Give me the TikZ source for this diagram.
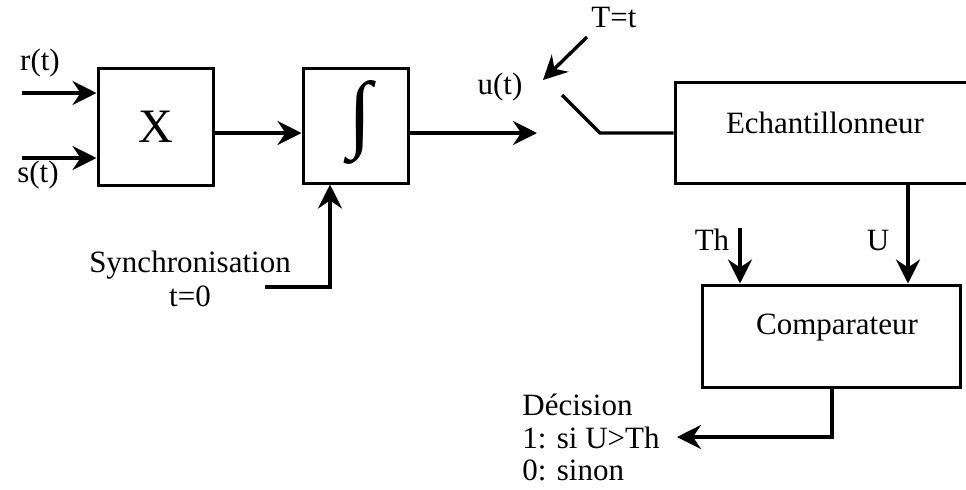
\documentclass[tikz,border=0pt]{standalone}
\usepackage{fontspec}
\setmainfont{Liberation Serif}
\usetikzlibrary{arrows.meta}
\begin{document}
\begin{tikzpicture}[x=0.5pt,y=-0.5pt,
  blk/.style={draw,line width=1.5pt,inner sep=0pt,font=\fontsize{15.5}{18}\selectfont},
  lbl/.style={inner sep=0pt,font=\fontsize{15.5}{18}\selectfont},
  wire/.style={line width=1.7pt},
  arr/.style={wire,-{Stealth[length=12pt,width=12pt,inset=4pt]}}]
\clip (0,0) rectangle (966,489);
% blocks
\node[blk,minimum width=57.5pt,minimum height=58.5pt] (mul) at (155.5,126.5) {\fontsize{24}{28}\selectfont X};
\node[blk,minimum width=52.5pt,minimum height=57.5pt] (int) at (355.5,125.5) {};
\node[lbl] (intsign) at (360,122.5) {\resizebox*{!}{42pt}{∫}};
\node[blk,minimum width=155pt,minimum height=50.5pt] (ech) at (830,132.5) {};
\node[lbl] (echt) at (825,123) {Echantillonneur};
\node[blk,minimum width=129pt,minimum height=51pt] (cmp) at (831,336) {};
\node[lbl] (cmpt) at (837,328) {Comparateur};
% labels
\node[lbl] (rl) at (40,63) {r(t)};
\node[lbl] (sl) at (38,175) {s(t)};
\node[lbl] (ul) at (500,87) {u(t)};
\node[lbl] (Tl) at (614,17) {T=t};
\node[lbl] (syn) at (190,265) {Synchronisation};
\node[lbl] (t0) at (190,296) {t=0};
\node[lbl] (thl) at (712,240) {Th};
\node[lbl] (Ul) at (878,240) {U};
\node[lbl,anchor=west] (d1) at (522,405) {Décision};
\node[lbl,anchor=west] (d2) at (522,438) {1: si U>Th};
\node[lbl,anchor=west] (d3) at (522,470) {0: sinon};
% coordinates
\coordinate (rin) at (22,93);
\coordinate (sin) at (22,158);
\coordinate (uout) at (537,133);
\coordinate (sw1) at (562,95);
\coordinate (sw2) at (600,133);
\coordinate (Ta) at (587,37);
\coordinate (Tb) at (543,80);
\coordinate (sy) at (265,287);
\coordinate (tha) at (740,228);
\coordinate (dec) at (677,437);
% connectors
\draw[arr] (rin) -- (rin -| mul.west);
\draw[arr] (sin) -- (sin -| mul.west);
\draw[arr] (mul.east |- 0,133) -- (int.west |- 0,133);
\draw[arr] (int.east |- uout) -- (uout);
\draw[arr] (Ta) -- (Tb);
\draw[wire] (sw1) -- (sw2) -- (sw2 -| ech.west);
\draw[arr] (sy) -| (int.south -| 330,0);
\draw[arr] (ech.south -| 908,0) -- (cmp.north -| 908,0);
\draw[arr] (tha) -- (tha |- cmp.north);
\draw[arr] (cmp.south -| 832,0) |- (dec);
\end{tikzpicture}
\end{document}
